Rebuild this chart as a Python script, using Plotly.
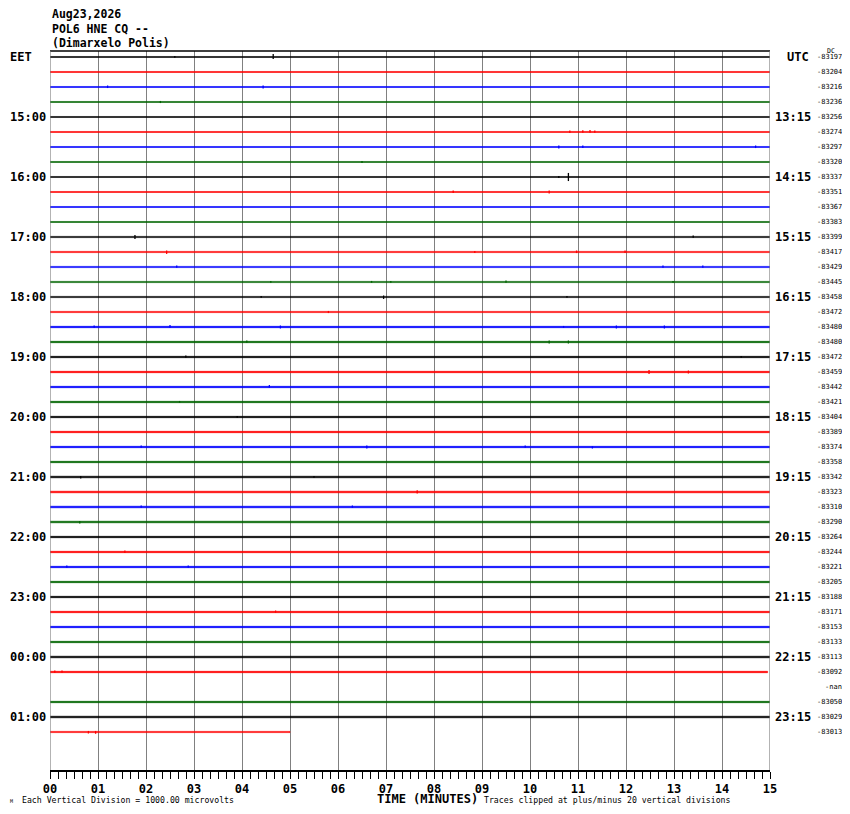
import plotly.graph_objects as go

# helicorder: 46 rows of 15 minutes each, first row at the top
n_rows = 46

hour_rows = [0, 4, 8, 12, 16, 20, 24, 28, 32, 36, 40, 44]
eet_labels = ["EET", "15:00", "16:00", "17:00", "18:00", "19:00",
              "20:00", "21:00", "22:00", "23:00", "00:00", "01:00"]
utc_labels = ["UTC", "13:15", "14:15", "15:15", "16:15", "17:15",
              "18:15", "19:15", "20:15", "21:15", "22:15", "23:15"]

# mean (DC) value printed at the right of every row, None = -nan
dc_offsets = [-83197, -83204, -83216, -83236, -83256, -83274, -83297, -83320,
              -83337, -83351, -83367, -83383, -83399, -83417, -83429, -83445,
              -83458, -83472, -83480, -83480, -83472, -83459, -83442, -83421,
              -83404, -83389, -83374, -83358, -83342, -83323, -83310, -83290,
              -83264, -83244, -83221, -83205, -83188, -83171, -83153, -83133,
              -83113, -83092, None, -83050, -83029, -83013]

# minute at which each row's data stops (None = no data)
row_end = [15, 15, 15, 15, 15, 15, 15, 15, 15, 15, 15, 15, 15, 15, 15, 15,
           15, 15, 15, 15, 15, 15, 15, 15, 15, 15, 15, 15, 15, 15, 15, 15,
           15, 15, 15, 15, 15, 15, 15, 15, 15, 14.95, None, 15, 15, 5.0]

# half height of the background noise, in row spacings
noise_amp = [0.035, 0.035, 0.035, 0.035, 0.035, 0.035, 0.035, 0.035,
             0.035, 0.035, 0.035, 0.035, 0.04, 0.04, 0.04, 0.04,
             0.04, 0.04, 0.045, 0.045, 0.045, 0.045, 0.045, 0.045,
             0.045, 0.045, 0.045, 0.045, 0.05, 0.05, 0.05, 0.05,
             0.045, 0.045, 0.045, 0.045, 0.045, 0.045, 0.045, 0.045,
             0.05, 0.045, 0.0, 0.045, 0.05, 0.04]

# (row, minute, up, down) for the larger spikes, in row spacings
spikes = [
    (0, 4.65, 0.2, 0.13), (0, 2.6, 0.07, 0.05), (2, 4.44, 0.1, 0.1), (2, 1.2, 0.1, 0.07),
    (3, 2.3, 0.07, 0.07), (5, 10.83, 0.1, 0.07), (5, 11.1, 0.12, 0.05),
    (5, 11.25, 0.13, 0.05), (5, 11.35, 0.1, 0.05), (6, 10.6, 0.1, 0.1),
    (6, 11.1, 0.1, 0.07), (6, 14.7, 0.1, 0.07), (7, 6.5, 0.07, 0.07),
    (8, 10.8, 0.27, 0.27), (8, 10.6, 0.07, 0.07), (9, 8.4, 0.1, 0.07),
    (9, 10.4, 0.1, 0.1), (12, 1.77, 0.13, 0.13), (12, 13.4, 0.1, 0.05),
    (13, 2.43, 0.1, 0.13), (13, 8.85, 0.07, 0.07), (13, 10.97, 0.1, 0.07),
    (13, 11.98, 0.1, 0.07), (14, 2.64, 0.1, 0.05), (14, 12.77, 0.1, 0.05),
    (14, 13.6, 0.1, 0.05), (15, 4.6, 0.07, 0.05), (15, 6.7, 0.07, 0.05),
    (15, 7.1, 0.07, 0.05), (15, 9.5, 0.1, 0.05), (15, 12.98, 0.07, 0.05),
    (16, 4.4, 0.07, 0.05), (16, 6.95, 0.1, 0.13), (16, 10.77, 0.07, 0.05),
    (17, 5.8, 0.07, 0.07), (18, 0.92, 0.1, 0.05), (18, 2.5, 0.13, 0.05),
    (18, 4.8, 0.1, 0.1), (18, 10.7, 0.07, 0.05), (18, 11.8, 0.1, 0.1),
    (18, 12.8, 0.1, 0.1), (19, 4.1, 0.1, 0.05), (19, 10.4, 0.1, 0.1),
    (19, 10.8, 0.1, 0.1), (20, 2.83, 0.1, 0.05), (20, 14.4, 0.07, 0.05),
    (21, 12.48, 0.13, 0.13), (21, 13.3, 0.1, 0.1), (22, 4.57, 0.13, 0.05),
    (23, 2.7, 0.07, 0.05), (24, 3.9, 0.07, 0.05), (26, 1.9, 0.1, 0.05),
    (26, 6.6, 0.1, 0.1), (26, 9.9, 0.1, 0.05), (26, 11.3, 0.05, 0.1),
    (28, 0.64, 0.07, 0.1), (28, 5.5, 0.07, 0.05), (29, 7.65, 0.12, 0.1),
    (30, 1.9, 0.1, 0.05), (30, 6.3, 0.1, 0.05), (31, 0.62, 0.07, 0.1),
    (33, 1.56, 0.1, 0.07), (34, 0.35, 0.1, 0.05), (34, 2.88, 0.1, 0.05),
    (37, 4.7, 0.1, 0.05), (41, 0.1, 0.1, 0.05), (41, 0.25, 0.1, 0.05),
    (45, 0.8, 0.07, 0.1), (45, 0.95, 0.07, 0.12),
]

minute_ticks = list(range(16))
minute_labels = [f"{m:02d}" for m in minute_ticks]

colors = ["#000000", "#ff0000", "#0000ff", "#006400"]
mono = "DejaVu Sans Mono"

fig = go.Figure()

# background noise band of every row
for i in range(n_rows):
    end = row_end[i]
    if end is None:
        continue
    base = -i
    a = noise_amp[i]
    col = colors[i % 4]
    fig.add_trace(go.Scatter(
        x=[0, end, end, 0, 0],
        y=[base + a, base + a, base - a, base - a, base + a],
        mode="lines", fill="toself", fillcolor=col,
        line=dict(color=col, width=0.6),
        hoverinfo="skip", showlegend=False))

# spikes, one trace per colour
for c in range(4):
    xs, ys = [], []
    for row, m, up, down in spikes:
        if row % 4 != c:
            continue
        xs += [m, m, None]
        ys += [-row + up, -row - down, None]
    fig.add_trace(go.Scatter(x=xs, y=ys, mode="lines",
                             line=dict(color=colors[c], width=1.3),
                             hoverinfo="skip", showlegend=False))

annotations = []
bold = dict(family=mono, size=12, color="black", weight="bold")

# title block
for k, txt in enumerate(["Aug23,2026", "POL6 HNE CQ --", "(Dimarxelo Polis)"]):
    annotations.append(dict(xref="paper", yref="paper", x=0, xanchor="left",
                            y=(770 - (14 + 14.5 * k)) / 719, yanchor="middle",
                            text=txt, showarrow=False,
                            font=dict(family=mono, size=11.5, color="black", weight="bold")))

# hour labels, local time left and UTC right
for row, left, right in zip(hour_rows, eet_labels, utc_labels):
    if left == "EET":
        annotations.append(dict(xref="paper", yref="y", x=-42 / 720, xanchor="left",
                                y=-row, text=left, showarrow=False, font=bold))
        annotations.append(dict(xref="paper", yref="y", x=1 + 15 / 720, xanchor="left",
                                y=-row, text=right, showarrow=False, font=bold))
    else:
        annotations.append(dict(xref="paper", yref="y", x=-2 / 720, xanchor="right",
                                y=-row, text=left, showarrow=False, font=bold))
        annotations.append(dict(xref="paper", yref="y", x=1 + 3 / 720, xanchor="left",
                                y=-row, text=right, showarrow=False, font=bold))

# DC offsets
for i, dc in enumerate(dc_offsets):
    txt = "-nan" if dc is None else str(dc)
    annotations.append(dict(xref="paper", yref="y", x=1 + 74 / 720, xanchor="right",
                            y=-i, text=txt, showarrow=False,
                            font=dict(family=mono, size=7, color="black")))
annotations.append(dict(xref="paper", yref="y", x=1 + 61 / 720, xanchor="center",
                        y=0.4, text="DC", showarrow=False,
                        font=dict(family=mono, size=6.5, color="black")))

# footer
annotations.append(dict(xref="paper", yref="paper", x=325 / 720, xanchor="left",
                        y=(770 - 799) / 719, yanchor="middle", text="TIME (MINUTES)",
                        showarrow=False, font=bold))
annotations.append(dict(xref="paper", yref="paper", x=-30 / 720, xanchor="left",
                        y=(770 - 800) / 719, yanchor="middle",
                        text="Each Vertical Division = 1000.00 microvolts",
                        showarrow=False, font=dict(family=mono, size=8.2, color="black")))
annotations.append(dict(xref="paper", yref="paper", x=432 / 720, xanchor="left",
                        y=(770 - 800) / 719, yanchor="middle",
                        text="Traces clipped at plus/minus 20 vertical divisions",
                        showarrow=False, font=dict(family=mono, size=8.2, color="black")))
annotations.append(dict(xref="paper", yref="paper", x=-42 / 720, xanchor="left",
                        y=(770 - 801) / 719, yanchor="middle", text="M",
                        showarrow=False, font=dict(family=mono, size=5, color="black")))

shapes = [
    dict(type="line", xref="x", yref="paper", x0=0, x1=15, y0=1, y1=1,
         line=dict(color="black", width=1.5)),
    dict(type="line", xref="x", yref="paper", x0=0, x1=0, y0=0, y1=1,
         line=dict(color="#808080", width=1.2)),
    dict(type="line", xref="x", yref="paper", x0=15, x1=15, y0=0, y1=1,
         line=dict(color="#808080", width=1.2)),
]

# the page puts the figure 8px in from the top-left corner
fig.update_layout(
    width=842, height=806,
    margin=dict(l=42, r=80, t=43, b=44),
    paper_bgcolor="white", plot_bgcolor="white",
    annotations=annotations, shapes=shapes,
    xaxis=dict(range=[0, 15], tickvals=minute_ticks, ticktext=minute_labels,
               showgrid=True, gridcolor="#808080", gridwidth=1.2, zeroline=False,
               showline=True, linecolor="black", linewidth=1.5,
               ticks="outside", ticklen=7, tickcolor="black", tickwidth=1.2,
               tickfont=dict(family=mono, size=12, color="black", weight="bold"),
               minor=dict(dtick=1 / 6, tick0=0, ticks="outside", ticklen=7,
                          tickcolor="black", tickwidth=1.2, showgrid=False)),
    yaxis=dict(range=[-(770 - 57) / 15, (57 - 51) / 15], showgrid=False,
               zeroline=False, showticklabels=False, ticks=""),
)

fig.write_html("out.html")
